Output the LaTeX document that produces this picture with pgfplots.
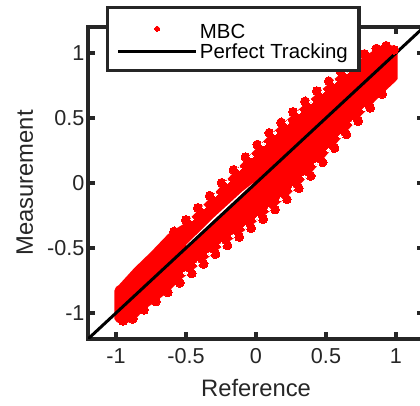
\documentclass[border=0pt]{standalone}
\usepackage{pgfplots}
\pgfplotsset{compat=1.18}
\usepackage{fontspec}
\setmainfont{Liberation Sans}
\definecolor{axcol}{RGB}{38,38,38}
\pgfplotsset{
 dotlegend/.style={legend image code/.code={\path (0pt,0pt) (78pt,0pt); \draw[##1,mark size=2.4pt] plot coordinates {(39pt,0pt)};}},
 linelegend/.style={legend image code/.code={\draw[##1] (0pt,0pt) -- (78pt,0pt);}},
}
\begin{document}
\begin{tikzpicture}
\useasboundingbox (0,0) rectangle (420pt,406pt);
\begin{axis}[
 at={(88pt,67pt)}, anchor=south west,
 scale only axis, width=336pt, height=312pt,
 xmin=-1.2, xmax=1.2, ymin=-1.2, ymax=1.2,
 xtick={-1,-0.5,0,0.5,1}, ytick={-1,-0.5,0,0.5,1},
 axis line style={axcol, line width=4.5pt},
 major tick length=7.3pt,
 tick style={axcol, line width=4.5pt},
 tick align=inside,
 /pgf/number format/assume math mode=true,
 ticklabel style={font=\fontsize{21.6}{26}\selectfont, text=axcol},
 xticklabel style={yshift=-6pt},
 label style={font=\fontsize{23.8}{28}\selectfont, text=axcol},
 xlabel={Reference}, ylabel={Measurement},
 xlabel style={at={(axis description cs:0.5,-0.183)}, anchor=base},
 ylabel style={at={(axis description cs:-0.164,0.5)}, anchor=base},
 legend style={at={(axis description cs:0.0528,1.068)}, anchor=north west,
   draw=axcol, line width=3.5pt, fill=white,
   font=\fontsize{20.4}{24}\selectfont, text=black,
   inner xsep=9pt, inner ysep=8.5pt, row sep=0pt,
   cells={anchor=west}, nodes={inner sep=2pt}},
]
% band body
\addplot[fill=red, draw=none, forget plot] coordinates {
(-1.012,-1.045) (-1.012,-0.83) (-1.0,-0.80) (-0.98,-0.785) (-0.87,-0.655) (-0.75,-0.53) (-0.63,-0.395)
(-0.585,-0.36)
(-0.50,-0.304) (-0.415,-0.2105) (-0.33,-0.117) (-0.245,-0.018) (-0.16,0.082) (-0.075,0.180) (0.01,0.2765)
(0.095,0.366) (0.18,0.447) (0.265,0.528) (0.35,0.6085) (0.435,0.6875) (0.52,0.764) (0.605,0.840)
(0.69,0.9125) (0.775,0.9735) (0.86,1.034)
(0.90,1.062) (0.94,1.066) (0.98,1.055) (1.0,1.04) (1.012,1.02) (1.012,0.80) (0.99,0.775)
(0.90,0.685) (0.815,0.590) (0.73,0.495) (0.645,0.393) (0.56,0.287) (0.475,0.178) (0.39,0.073)
(0.305,-0.0205) (0.22,-0.106) (0.135,-0.1845) (0.05,-0.2585) (-0.035,-0.329) (-0.12,-0.396)
(-0.205,-0.46) (-0.29,-0.528) (-0.375,-0.6035) (-0.46,-0.677) (-0.545,-0.749) (-0.63,-0.8405)
(-0.715,-0.911) (-0.80,-0.975)
(-0.85,-1.035) (-0.916,-1.075) (-0.96,-1.082) (-0.995,-1.07)
} -- cycle;
% edge samples
\addplot[only marks, mark=*, mark size=4.5pt, red, mark options={line width=0pt}, dotlegend]
 coordinates {
(-0.585,-0.373)
(-0.50,-0.285) (-0.415,-0.1915) (-0.33,-0.098) (-0.245,0.001) (-0.16,0.101) (-0.075,0.199) (0.01,0.2955)
(0.095,0.385) (0.18,0.466) (0.265,0.547) (0.35,0.6275) (0.435,0.7065) (0.52,0.783) (0.605,0.859)
(0.69,0.9315) (0.775,0.9925) (0.86,1.034) (0.93,1.055) (0.985,1.025)
(0.90,0.685) (0.815,0.579) (0.73,0.476) (0.645,0.374) (0.56,0.268) (0.475,0.159) (0.39,0.054)
(0.305,-0.0395) (0.22,-0.125) (0.135,-0.2035) (0.05,-0.2775) (-0.035,-0.348) (-0.12,-0.415)
(-0.205,-0.479) (-0.29,-0.547) (-0.375,-0.6225) (-0.46,-0.696) (-0.545,-0.768) (-0.63,-0.8405)
(-0.715,-0.911) (-0.80,-0.975) (-0.88,-1.045) (-0.95,-1.06)
};
\addlegendentry{\rule{0pt}{20pt}MBC}
% small gaps inside the band near its edges
\addplot[only marks, mark=*, mark size=1.7pt, white, mark options={line width=0pt}, forget plot]
 coordinates {
(-0.4575,-0.2785) (-0.3725,-0.1847) (-0.2875,-0.0885) (-0.2025,0.011) (-0.1175,0.11) (-0.0325,0.2073)
(0.0525,0.3003) (0.1375,0.3855) (0.2225,0.4665) (0.3075,0.5473) (0.3925,0.627) (0.4775,0.7048)
(0.5625,0.781) (0.6475,0.8553) (0.7325,0.922)
(-0.5025,-0.692) (-0.4175,-0.6193) (-0.3325,-0.5448) (-0.2475,-0.473) (-0.1625,-0.407) (-0.0775,-0.3415)
(0.0075,-0.2728) (0.0925,-0.2005) (0.1775,-0.1243) (0.2625,-0.0423) (0.3475,0.0472) (0.4325,0.1465)
(0.5175,0.2535) (0.6025,0.361) (0.6875,0.465) (0.7725,0.5675)
};
% thin gap next to the line
\addplot[fill=white, draw=none, forget plot] coordinates {
(-0.50,-0.478) (-0.30,-0.265) (-0.10,-0.068) (-0.02,0.0) (-0.10,-0.082) (-0.30,-0.283) (-0.50,-0.485)
} -- cycle;
\addplot[black, line width=3pt, linelegend]
 coordinates {(-1.2,-1.2) (1.2,1.2)};
\addlegendentry{Perfect Tracking}
\end{axis}
\end{tikzpicture}
\end{document}
